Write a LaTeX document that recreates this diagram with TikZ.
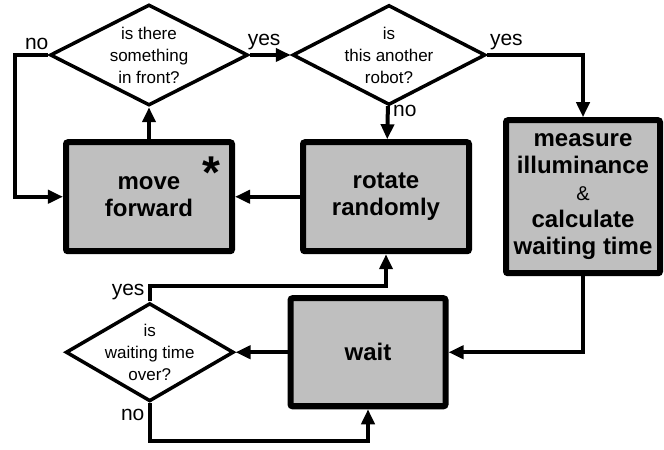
\documentclass[tikz,border=0pt]{standalone}
\usepackage{fontspec}
\setmainfont{Liberation Sans}
\usetikzlibrary{shapes.geometric, arrows.meta, positioning}
\definecolor{boxgray}{gray}{0.75}

\begin{document}
\begin{tikzpicture}[x=1bp, y=1bp, >={Triangle[length=15bp,width=13bp]}]
    % Styles
    \tikzstyle{block} = [rectangle, draw, line width=6bp, fill=boxgray, rounded corners=2bp, align=center, inner sep=0pt, font=\fontsize{24bp}{27bp}\selectfont\bfseries, minimum width=166bp, minimum height=109bp]
    \tikzstyle{decision} = [diamond, draw, line width=3.5bp, fill=white, align=center, inner sep=-12bp, font=\fontsize{17bp}{22bp}\selectfont]
    \tikzstyle{arrow} = [line width=4bp, ->]
    \tikzstyle{answer} = [font=\fontsize{21bp}{21bp}\selectfont]

    \useasboundingbox (0,0) rectangle (664,450);

    % Nodes
    \node[decision, minimum width=198bp, minimum height=101bp] (front) at (149,395) {is there\\something\\in front?};
    \node[decision, minimum width=193bp, minimum height=100bp, right=41bp of front] (robot) {is\\this another\\robot?};
    \node[block, below=32bp of front] (move) {move\\forward};
    \node[block, right=65bp of move] (rotate) {rotate\\randomly};
    \node[block, right=31bp of rotate, minimum width=154bp, minimum height=153bp] (measure) {measure\\illuminance\\{\mdseries\fontsize{20bp}{27bp}\selectfont\&}\\calculate\\waiting time};
    \node[block, below=41bp of rotate, xshift=-18bp, minimum width=155bp, minimum height=108bp] (wait) {wait};
    \node[decision, left=52bp of wait, minimum width=168bp, minimum height=98bp] (waiting) {is\\waiting time\\over?};
    \node[anchor=north, inner sep=0pt, font=\fontsize{46bp}{46bp}\selectfont\bfseries] (star) at ([xshift=-24bp, yshift=-17bp]move.north east) {*};

    % Paths
    \draw[arrow] (front.west) -- node[answer, above, pos=0.35] {no} ++(-33bp,0) |- (move.west);
    \draw[arrow] (front.east) -- node[answer, above, pos=0.35] {yes} (robot.west);
    \draw[arrow] (move) -- (front);
    \draw[arrow] (robot) -- node[answer, right, pos=0.15] {no} (rotate);
    \draw[arrow] (robot.east) -| node[answer, above, pos=0.1] {yes} (measure.north);
    \draw[arrow] (rotate) -- (move);
    \draw[arrow] (measure.south) |- (wait.east);
    \draw[arrow] (wait) -- (waiting);
    \draw[arrow] (waiting.north) -- node[answer, left, pos=0.6] {yes} ++(0,15bp) -| (rotate.south);
    \draw[arrow] (waiting.south) -- node[answer, left, pos=0.3] {no} ++(0,-38bp) -| (wait.south);
\end{tikzpicture}
\end{document}
